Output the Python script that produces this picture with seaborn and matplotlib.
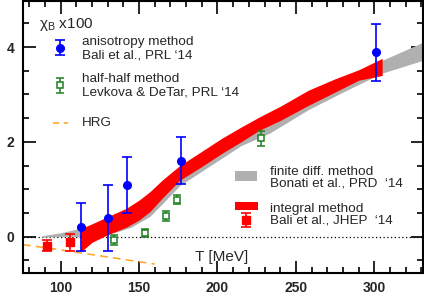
import numpy as np
import pandas as pd
import matplotlib
matplotlib.use("Agg")
import matplotlib.pyplot as plt
import seaborn as sns
from matplotlib.ticker import MultipleLocator

sns.set_theme(style="ticks")
plt.rcParams['font.family'] = ['Liberation Sans', 'DejaVu Sans']
plt.rcParams['mathtext.fontset'] = 'custom'
plt.rcParams['mathtext.rm'] = 'Liberation Sans'
plt.rcParams['mathtext.it'] = 'Liberation Sans:italic'

# ---- data ----
# finite difference band (Bonati et al.)
gray_T = [88, 100, 113, 125, 135, 145, 157, 165, 176, 190, 203, 215, 233, 258, 280, 305, 331]
gray_lo = [-0.01, 0.0, 0.0, 0.03, 0.09, 0.20, 0.43, 0.70, 1.08, 1.38, 1.66, 1.92, 2.18, 2.68, 3.05, 3.45, 3.72]
gray_hi = [0.02, 0.08, 0.18, 0.28, 0.40, 0.56, 0.82, 1.05, 1.38, 1.72, 2.02, 2.26, 2.52, 2.98, 3.35, 3.72, 4.10]

# integral method band (Bali et al., JHEP)
red_T = [113, 120, 130, 142, 150, 157, 165, 176, 190, 203, 215, 227, 240, 258, 275, 290, 305]
red_lo = [-0.32, -0.12, 0.04, 0.20, 0.35, 0.53, 0.82, 1.19, 1.48, 1.76, 2.00, 2.25, 2.45, 2.77, 3.05, 3.30, 3.40]
red_hi = [0.17, 0.27, 0.42, 0.60, 0.77, 0.95, 1.20, 1.50, 1.80, 2.08, 2.31, 2.53, 2.75, 3.09, 3.33, 3.52, 3.76]

# integral method points
red_pts_T = [91, 106]
red_pts_y = [-0.19, -0.12]
red_pts_err = [0.12, 0.18]

# anisotropy method (Bali et al., PRL)
blue_T = [113, 130, 142, 176.5, 301]
blue_y = [0.20, 0.39, 1.09, 1.60, 3.89]
blue_err = [0.50, 0.70, 0.60, 0.50, 0.60]

# half-half method (Levkova & DeTar)
green_T = [134, 154, 167, 174, 228]
green_y = [-0.07, 0.08, 0.44, 0.78, 2.07]
green_err = [0.10, 0.08, 0.11, 0.10, 0.16]

# HRG
hrg_T = [76, 100, 120, 140, 160]
hrg_y = [-0.17, -0.28, -0.38, -0.48, -0.58]

BLUE = '#0000ff'
GREEN = '#1f7f1f'
RED = '#ff0000'
GRAY = '#b0b0b0'
ORANGE = '#ffa31a'

fig = plt.figure(figsize=(4.24, 2.96), dpi=100)
ax = fig.add_axes([0.0535, 0.079, 0.944, 0.919])

ax.axhline(0, color='black', ls=(0, (1, 2)), lw=0.9, zorder=1)

ax.fill_between(gray_T, gray_lo, gray_hi, color=GRAY, lw=0, zorder=2)
ax.fill_between(red_T, red_lo, red_hi, color=RED, lw=0, zorder=3)

hrg = pd.DataFrame({'T': hrg_T, 'y': hrg_y})
sns.lineplot(data=hrg, x='T', y='y', ax=ax, color=ORANGE, lw=1.1,
             dashes=False, zorder=2)
ax.lines[-1].set_dashes([5, 3.5])

ax.errorbar(red_pts_T, red_pts_y, yerr=red_pts_err, fmt='s', color=RED,
            ms=5.5, capsize=3.5, elinewidth=1.2, capthick=1.2, zorder=5)
ax.errorbar(green_T, green_y, yerr=green_err, fmt='s', color=GREEN, mfc='white',
            mec=GREEN, ms=5, mew=1.1, capsize=3, elinewidth=1.1, capthick=1.1, zorder=5)
ax.errorbar(blue_T, blue_y, yerr=blue_err, fmt='o', color=BLUE,
            ms=5.5, capsize=3.5, elinewidth=1.2, capthick=1.2, zorder=6)

# ---- legend-like annotations ----
fs = 9.7
ax.text(86.2, 4.48, r'$\mathrm{χ}_{\mathrm{B}}$ x100', fontsize=11, va='center', ha='left')
ax.errorbar([99.6], [3.99], yerr=[0.15], fmt='o', color=BLUE, ms=5.5, capsize=3.5,
            elinewidth=1.2, capthick=1.2)
ax.text(113.5, 4.10, 'anisotropy method', fontsize=fs, va='center')
ax.text(113.5, 3.83, 'Bali et al., PRL \u201814', fontsize=fs, va='center')
ax.errorbar([99.6], [3.19], yerr=[0.15], fmt='s', color=GREEN, mfc='white', mec=GREEN,
            ms=5, mew=1.1, capsize=3, elinewidth=1.1, capthick=1.1)
ax.text(113.5, 3.32, 'half-half method', fontsize=fs, va='center')
ax.text(113.5, 3.05, 'Levkova & DeTar, PRL \u201814', fontsize=fs, va='center')
ax.plot([95.1, 104.6], [2.39, 2.39], color=ORANGE, lw=1.1, dashes=[4, 3])
ax.text(113.5, 2.39, 'HRG', fontsize=fs, va='center')

ax.fill_between([210.9, 225.5], [1.18, 1.18], [1.39, 1.39], color=GRAY, lw=0)
ax.text(233.7, 1.36, 'finite diff. method', fontsize=fs, va='center')
ax.text(233.7, 1.11, 'Bonati et al., PRD  \u201814', fontsize=fs, va='center')
ax.fill_between([210.9, 226.1], [0.56, 0.56], [0.73, 0.73], color=RED, lw=0)
ax.errorbar([218.5], [0.35], yerr=[0.15], fmt='s', color=RED, ms=5.5, capsize=3.5,
            elinewidth=1.2, capthick=1.2)
ax.text(233.7, 0.58, 'integral method', fontsize=fs, va='center')
ax.text(233.7, 0.33, 'Bali et al., JHEP  \u201814', fontsize=fs, va='center')

ax.text(185.4, -0.43, 'T [MeV]', fontsize=11, va='center', ha='left')

# ---- axes ----
ax.set_xlim(75.8, 331)
ax.set_ylim(-0.76, 4.98)
ax.set_xlabel('')
ax.set_ylabel('')
ax.xaxis.set_major_locator(MultipleLocator(50))
ax.xaxis.set_minor_locator(MultipleLocator(10))
ax.yaxis.set_major_locator(MultipleLocator(2))
ax.yaxis.set_minor_locator(MultipleLocator(0.5))
ax.tick_params(which='both', direction='in', top=True, right=True, width=1.2, color='black')
ax.tick_params(which='major', length=9, pad=6, labelsize=10)
ax.tick_params(which='minor', length=4.5)
for lab in ax.get_xticklabels() + ax.get_yticklabels():
    lab.set_fontweight('bold')
for s in ax.spines.values():
    s.set_linewidth(1.5)
    s.set_color('black')

fig.savefig('out.png', dpi=100)
